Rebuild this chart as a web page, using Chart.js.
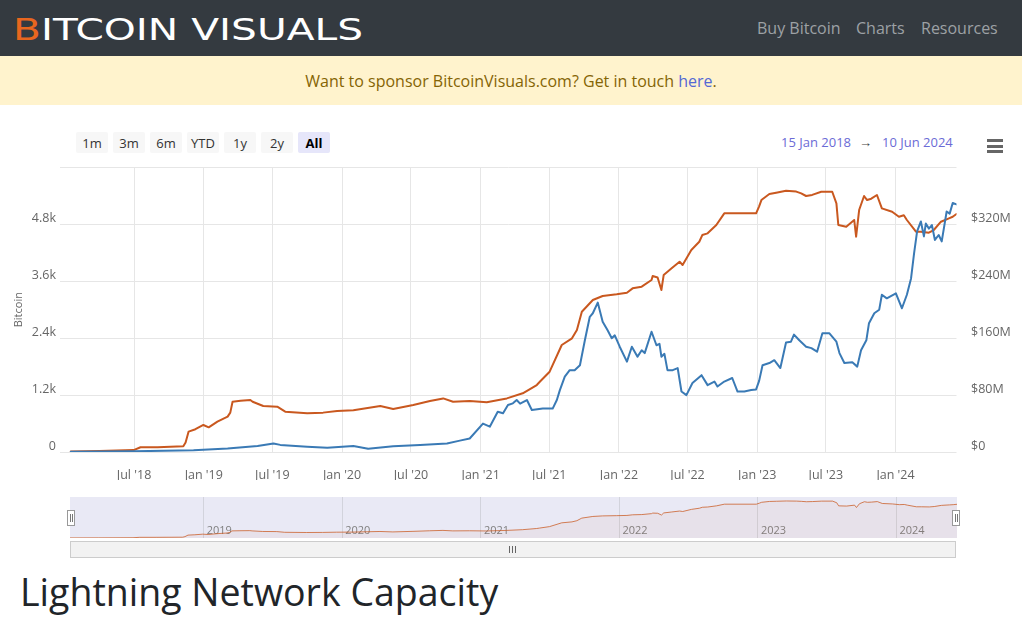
<!DOCTYPE html>
<html><head><meta charset="utf-8">
<script src="https://cdn.jsdelivr.net/npm/chart.js@4.4.1/dist/chart.umd.min.js"></script>
<style>
html,body{margin:0;padding:0;width:1022px;height:618px;overflow:hidden;background:#fff;font-family:"Open Sans",sans-serif;}
#hdr{position:absolute;left:0;top:0;width:1022px;height:56px;background:#343a40;}
#logo{position:absolute;left:13px;top:14.5px;font-family:"DejaVu Sans",sans-serif;font-size:30px;line-height:30px;color:#fff;white-space:nowrap;transform-origin:0 0;font-weight:normal;}
#logo span{color:#e8661f}
.nav{position:absolute;top:16px;font-size:16px;color:#9da1a5;line-height:24px;white-space:nowrap}
#banner{position:absolute;left:0;top:57px;width:1022px;height:48px;background:#fff3cd;color:#856404;font-size:16px;line-height:48px;text-align:center}
#bannerbg{position:absolute;left:0;top:56px;width:1022px;height:49px;background:#fff3cd}
#banner a{color:#5468d4;text-decoration:none}
.btn{position:absolute;top:132px;width:32px;height:21px;background:#f7f7f7;font-size:13px;color:#333;text-align:center;line-height:22px;border-radius:2px}
.btn.sel{background:#e6e6fa;font-weight:bold;color:#000}
.dt{position:absolute;top:132px;font-size:13px;line-height:20px;color:#6b6bd6;white-space:nowrap}
.bar{position:absolute;left:987px;width:16px;height:3px;background:#666}
#main{position:absolute;left:0;top:120px;width:1022px;height:360px}
#nav{position:absolute;left:70px;top:497px;width:887px;height:41px}
#navbox{position:absolute;left:70px;top:497px;width:886px;height:40px;border:1px solid #ccc;box-sizing:border-box;}
.handle{position:absolute;top:510px;width:8px;height:16px;background:#fff;border:1px solid #999;box-sizing:border-box}
.handle i{position:absolute;top:3px;width:1px;height:8px;background:#777}
#scroll{position:absolute;left:70px;top:541px;width:886px;height:17px;background:#f2f2f2;border:1px solid #ccc;box-sizing:border-box}
.grip{position:absolute;top:546px;width:1px;height:7px;background:#666}
#title{position:absolute;left:20px;top:573.4px;font-size:37.5px;line-height:37.5px;color:#212529;white-space:nowrap}
</style></head>
<body>
<div id="hdr">
  <div id="logo"><span>B</span>ITCOIN VISUALS</div>
  <div class="nav" style="left:757px">Buy Bitcoin</div>
  <div class="nav" style="left:856px">Charts</div>
  <div class="nav" style="left:921px">Resources</div>
</div>
<div id="bannerbg"></div>
<div id="banner">Want to sponsor BitcoinVisuals.com? Get in touch <a>here</a>.</div>

<div class="btn" style="left:76px">1m</div>
<div class="btn" style="left:113px">3m</div>
<div class="btn" style="left:150px">6m</div>
<div class="btn" style="left:187px">YTD</div>
<div class="btn" style="left:224px">1y</div>
<div class="btn" style="left:261px">2y</div>
<div class="btn sel" style="left:298px">All</div>

<div class="dt" style="left:781px">15 Jan 2018</div>
<div class="dt" style="left:859px;color:#444">&rarr;</div>
<div class="dt" style="left:882px">10 Jun 2024</div>

<div class="bar" style="top:139px"></div>
<div class="bar" style="top:144.5px"></div>
<div class="bar" style="top:150px"></div>

<canvas id="main" width="1022" height="360"></canvas>

<div id="navbox"></div>
<canvas id="nav" width="887" height="41"></canvas>
<div class="handle" style="left:67px"><i style="left:2px"></i><i style="left:4px"></i></div>
<div class="handle" style="left:952px"><i style="left:2px"></i><i style="left:4px"></i></div>
<div id="scroll"></div>
<div class="grip" style="left:509px"></div>
<div class="grip" style="left:512px"></div>
<div class="grip" style="left:515px"></div>

<div id="title">Lightning Network Capacity</div>

<script>
// ---------- data ----------
const btcDates = ['2018-01-15','2018-04-01','2018-06-30','2018-07-18','2018-09-01','2018-11-08','2018-11-14','2018-11-22','2018-12-10','2018-12-31',
 '2019-01-14','2019-02-06','2019-03-05','2019-03-12','2019-03-18','2019-04-08','2019-05-04','2019-05-10','2019-06-07','2019-07-14',
 '2019-08-04','2019-10-01','2019-11-12','2019-12-19','2020-01-31','2020-04-11','2020-05-15','2020-07-07','2020-08-20','2020-09-24',
 '2020-10-20','2020-12-03','2021-01-17','2021-02-21','2021-03-11','2021-04-22','2021-05-29','2021-06-06','2021-07-02','2021-08-03',
 '2021-08-30','2021-09-12','2021-09-25','2021-10-24','2021-11-19','2021-12-26','2022-01-22','2022-02-06','2022-03-02','2022-03-28',
 '2022-03-31','2022-04-13','2022-04-23','2022-04-29','2022-05-20','2022-06-10','2022-06-18','2022-07-11','2022-08-01','2022-08-09',
 '2022-08-23','2022-09-15','2022-10-06','2022-12-29','2023-01-06','2023-01-12','2023-02-02','2023-02-20','2023-03-18','2023-04-14',
 '2023-04-27','2023-05-10','2023-05-26','2023-06-19','2023-07-18','2023-07-29','2023-08-03','2023-08-24','2023-09-14','2023-09-19',
 '2023-09-27','2023-10-10','2023-10-18','2023-10-29','2023-11-13','2023-11-26','2023-12-23','2024-01-10','2024-01-23','2024-01-31',
 '2024-02-24','2024-03-08','2024-03-29','2024-04-11','2024-04-30','2024-05-21','2024-05-31','2024-06-10'];
const btcValues = [10,20,40,100,100,120,200,430,480,570,
 520,640,745,830,1060,1080,1096,1060,970,955,
 850,816,830,865,880,970,906,990,1075,1130,
 1060,1075,1048,1100,1130,1237,1412,1480,1693,2256,
 2397,2572,2958,3204,3288,3324,3358,3450,3485,3626,
 3710,3680,3415,3731,3872,4012,3942,4258,4433,4574,
 4610,4785,5032,5032,5180,5312,5439,5466,5508,5490,
 5453,5397,5420,5487,5487,5243,4785,4750,4891,4539,
 5101,5397,5312,5340,5418,5137,5066,4960,4990,4891,
 4644,4644,4623,4680,4855,4926,4960,5018];

const usdDates = ['2018-01-15','2018-07-01','2018-12-05','2019-03-05','2019-05-23','2019-07-04','2019-07-22','2019-10-01','2019-11-23','2020-01-31',
 '2020-03-10','2020-05-15','2020-07-25','2020-10-04','2020-11-07','2020-12-03','2021-01-07','2021-01-25','2021-02-15','2021-03-01',
 '2021-03-14','2021-03-27','2021-04-06','2021-04-15','2021-05-03','2021-05-16','2021-06-14','2021-07-10','2021-07-21','2021-07-29',
 '2021-08-11','2021-08-24','2021-09-06','2021-09-20','2021-10-03','2021-10-16','2021-10-24','2021-11-06','2021-11-19','2021-12-02',
 '2021-12-13','2021-12-21','2022-01-03','2022-01-22','2022-02-04','2022-02-19','2022-03-02','2022-03-10','2022-03-28','2022-04-10',
 '2022-04-18','2022-04-23','2022-05-01','2022-05-09','2022-05-23','2022-06-05','2022-06-15','2022-06-28','2022-07-14','2022-08-07',
 '2022-08-23','2022-09-10','2022-09-18','2022-10-06','2022-10-27','2022-11-10','2022-11-28','2022-12-16','2022-12-29','2023-01-06',
 '2023-01-15','2023-02-02','2023-02-15','2023-03-03','2023-03-18','2023-03-31','2023-04-08','2023-04-22','2023-05-10','2023-05-24',
 '2023-06-08','2023-06-22','2023-07-10','2023-07-29','2023-08-06','2023-08-19','2023-09-09','2023-09-22','2023-10-02','2023-10-16',
 '2023-10-23','2023-11-06','2023-11-19','2023-11-26','2023-12-09','2024-01-02','2024-01-18','2024-01-31','2024-02-11','2024-02-19',
 '2024-02-27','2024-03-08','2024-03-16','2024-03-21','2024-03-29','2024-04-06','2024-04-14','2024-04-24','2024-05-02','2024-05-15',
 '2024-05-23','2024-05-31','2024-06-10'];
const usdValues = [0.3,1,2.5,5,8.4,12,10,7.5,6,8.4,
 4.7,8,9.8,12,16,19,40,35.6,56.6,54.4,
 66,68.4,73,68,73,59,61,61,73,87,
 106,115,115,122,157,190,195,210,183,171,
 160,164,148,127,148,134,143,139,169,150,
 152,134,138,115,115,118,85,80,97,108,
 94,99,92,99,104,85,85,87,88,100,
 122,125,129,118,154,155,165,157,148,146,
 141,167,167,155,139,125,126,120,143,157,
 181,195,200,221,216,223,202,221,244,279,
 310,324,303,321,314,319,298,305,296,338,
 335,350,348];

const xTickDates = ['2018-07-01','2019-01-01','2019-07-01','2020-01-01','2020-07-01','2021-01-01','2021-07-01','2022-01-01','2022-07-01','2023-01-01','2023-07-01','2024-01-01'];
const xTickLabels = ["Jul '18","Jan '19","Jul '19","Jan '20","Jul '20","Jan '21","Jul '21","Jan '22","Jul '22","Jan '23","Jul '23","Jan '24"];
const navYearDates = ['2019-01-01','2020-01-01','2021-01-01','2022-01-01','2023-01-01','2024-01-01'];
const navYearLabels = ['2019','2020','2021','2022','2023','2024'];
const rangeStart = '2018-01-15', rangeEnd = '2024-06-10';

// ---------- helpers ----------
const EPOCH = Date.UTC(2018,0,1);
function dayNum(s){const p=s.split('-').map(Number);return (Date.UTC(p[0],p[1]-1,p[2])-EPOCH)/86400000;}
const btcPts = btcDates.map((d,i)=>({x:dayNum(d),y:btcValues[i]}));
const usdPts = usdDates.map((d,i)=>({x:dayNum(d),y:usdValues[i]}));
const xTicks = xTickDates.map(dayNum);
const navTicks = navYearDates.map(dayNum);
const x0 = dayNum(rangeStart), x1 = dayNum(rangeEnd);

const ORANGE = '#c9581f', BLUE = '#3a7ab5', GRID = '#e6e6e6', LBL = '#666';
const FONT = {family:'"Open Sans", sans-serif', size:12.5};

// logo width fit
(function(){const l=document.getElementById('logo');const w=l.getBoundingClientRect().width;l.style.transform='scaleX('+(350/w)+')';})();

new Chart(document.getElementById('main'), {
  type:'line',
  data:{datasets:[
    {label:'USD', data:usdPts, yAxisID:'yR', borderColor:BLUE, borderWidth:2, pointRadius:0, tension:0, borderJoinStyle:'round', borderCapStyle:'round'},
    {label:'Bitcoin', data:btcPts, yAxisID:'yL', borderColor:ORANGE, borderWidth:2, pointRadius:0, tension:0, borderJoinStyle:'round', borderCapStyle:'round'}
  ]},
  options:{
    responsive:false, animation:false, events:[],
    layout:{padding:{top:47.4,left:0,right:0,bottom:0}},
    plugins:{legend:{display:false},tooltip:{enabled:false}},
    scales:{
      x:{type:'linear', min:x0-28.5, max:x1,
        grid:{color:GRID, drawTicks:false}, border:{display:false},
        afterBuildTicks:s=>{s.ticks=xTicks.map(v=>({value:v}));},
        afterFit:s=>{s.height=28;},
        ticks:{autoSkip:false, maxRotation:0, padding:16, color:LBL, font:FONT,
          callback:(v,i)=>xTickLabels[i]}},
      yL:{type:'linear', position:'left', min:0, max:6000,
        grid:{color:GRID, drawTicks:false}, border:{display:false},
        afterFit:s=>{s.width=60;},
        title:{display:true, text:'Bitcoin', color:LBL, font:{family:'"Open Sans", sans-serif', size:11}, padding:{top:12.4,bottom:0}},
        ticks:{stepSize:1200, padding:4, labelOffset:-6, color:LBL, font:FONT,
          callback:v=> v===6000?'':(v===0?'0':(v/1000).toFixed(1)+'k')}},
      yR:{type:'linear', position:'right', min:0, max:400,
        grid:{display:false, drawTicks:false}, border:{display:false},
        afterFit:s=>{s.width=65.5;},
        ticks:{stepSize:80, padding:14.5, labelOffset:-6, color:LBL, font:FONT,
          callback:v=> v===400?'':('$'+v+(v?'M':''))}}
    }
  }
});

const navPlugin = {
  id:'navDecor',
  beforeDatasetsDraw(chart){
    const {ctx, chartArea:a, scales:{x}} = chart;
    ctx.save();
    ctx.fillStyle='#e9e9f5';
    ctx.fillRect(a.left,a.top,a.right-a.left,a.bottom-a.top);
    ctx.strokeStyle='#d2d3dc'; ctx.lineWidth=1;
    navTicks.forEach(v=>{const px=Math.round(x.getPixelForValue(v))+0.5;ctx.beginPath();ctx.moveTo(px,a.top);ctx.lineTo(px,a.bottom);ctx.stroke();});
    ctx.fillStyle='#808080'; ctx.font='11px "Open Sans", sans-serif'; ctx.textBaseline='alphabetic';
    navTicks.forEach((v,i)=>{const px=x.getPixelForValue(v);ctx.fillText(navYearLabels[i],px+3.5,37);});
    ctx.restore();
  }
};

new Chart(document.getElementById('nav'), {
  type:'line',
  data:{datasets:[{data:btcPts, borderColor:'rgba(201,88,31,0.75)', borderWidth:1, pointRadius:0, tension:0, fill:'origin', backgroundColor:'rgba(201,88,31,0.05)'}]},
  options:{
    responsive:false, animation:false, events:[],
    layout:{padding:0},
    plugins:{legend:{display:false},tooltip:{enabled:false}},
    scales:{
      x:{type:'linear', display:false, min:x0, max:x1},
      y:{type:'linear', display:false, min:0, max:6100}
    }
  },
  plugins:[navPlugin]
});
</script>
</body></html>
